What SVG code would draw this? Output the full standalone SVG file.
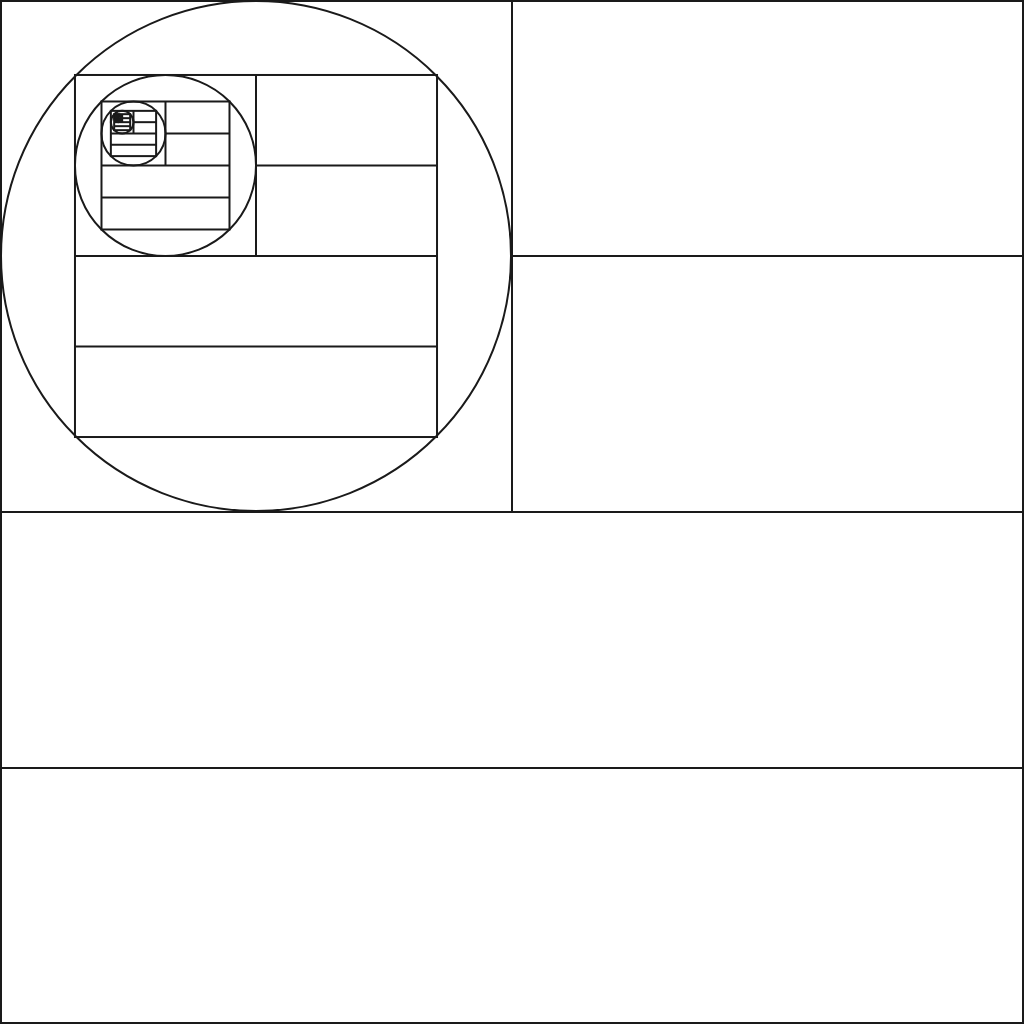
<svg xmlns="http://www.w3.org/2000/svg" width="1024" height="1024" viewBox="0 0 1024 1024">
<style>
.s{fill:none;stroke:#1a1a1a;stroke-width:2}
</style>
<rect width="1024" height="1024" fill="#ffffff"/>
<g id="level0" class="s">
<rect x="1" y="1" width="1022" height="1022"/>
<line x1="512" y1="0" x2="512" y2="512"/>
<line x1="0" y1="512" x2="1024" y2="512"/>
<line x1="512" y1="256" x2="1024" y2="256"/>
<line x1="0" y1="768" x2="1024" y2="768"/>
<circle cx="256" cy="256" r="255"/>
</g>
<g id="level1" class="s">
<rect x="74.98" y="74.98" width="362.04" height="362.04"/>
<line x1="256" y1="74.98" x2="256" y2="256"/>
<line x1="74.98" y1="256" x2="437.02" y2="256"/>
<line x1="256" y1="165.49" x2="437.02" y2="165.49"/>
<line x1="74.98" y1="346.51" x2="437.02" y2="346.51"/>
<circle cx="165.49" cy="165.49" r="90.51"/>
</g>
<g id="level2" class="s">
<rect x="101.49" y="101.49" width="128" height="128"/>
<line x1="165.49" y1="101.49" x2="165.49" y2="165.49"/>
<line x1="101.49" y1="165.49" x2="229.49" y2="165.49"/>
<line x1="165.49" y1="133.49" x2="229.49" y2="133.49"/>
<line x1="101.49" y1="197.49" x2="229.49" y2="197.49"/>
<circle cx="133.49" cy="133.49" r="32"/>
</g>
<g id="level3" class="s">
<rect x="110.86" y="110.86" width="45.25" height="45.25"/>
<line x1="133.49" y1="110.86" x2="133.49" y2="133.49"/>
<line x1="110.86" y1="133.49" x2="156.11" y2="133.49"/>
<line x1="133.49" y1="122.17" x2="156.11" y2="122.17"/>
<line x1="110.86" y1="144.80" x2="156.11" y2="144.80"/>
<circle cx="122.17" cy="122.17" r="11.31"/>
</g>
<g id="level4" class="s">
<rect x="114.17" y="114.17" width="16" height="16"/>
<line x1="122.17" y1="114.17" x2="122.17" y2="122.17"/>
<line x1="114.17" y1="122.17" x2="130.17" y2="122.17"/>
<line x1="122.17" y1="118.17" x2="130.17" y2="118.17"/>
<line x1="114.17" y1="126.17" x2="130.17" y2="126.17"/>
<circle cx="118.17" cy="118.17" r="4"/>
</g>
<g id="level5" class="s">
<rect x="115.34" y="115.34" width="5.66" height="5.66"/>
<line x1="118.17" y1="115.34" x2="118.17" y2="118.17"/>
<line x1="115.34" y1="118.17" x2="121" y2="118.17"/>
<line x1="118.17" y1="116.76" x2="121" y2="116.76"/>
<line x1="115.34" y1="119.59" x2="121" y2="119.59"/>
<circle cx="116.76" cy="116.76" r="1.41"/>
</g>
<g id="level6" class="s">
<rect x="115.76" y="115.76" width="2" height="2"/>
</g>
</svg>
